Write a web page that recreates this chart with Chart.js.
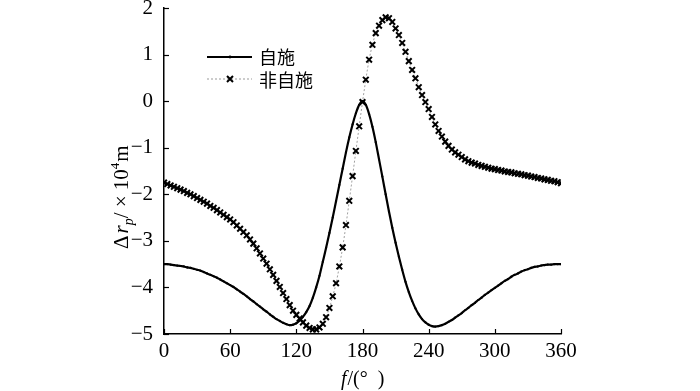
<!DOCTYPE html>
<html>
<head>
<meta charset="utf-8">
<script src="https://cdn.jsdelivr.net/npm/chart.js@4.4.1/dist/chart.umd.min.js"></script>
<style>
html,body{margin:0;padding:0;background:#fff;}
#wrap{position:relative;width:700px;height:391px;}
</style>
</head>
<body>
<div id="wrap"><canvas id="c" width="700" height="391"></canvas></div>
<script>
// ---- data ----
const angles = [
  0,3,6,9,12,15,18,21,24,27,
  30,33,36,39,42,45,48,51,54,57,
  60,63,66,69,72,75,78,81,84,87,
  90,93,96,99,102,105,108,111,114,117,
  120,123,126,129,132,135,138,141,144,147,
  150,153,156,159,162,165,168,171,174,177,
  180,183,186,189,192,195,198,201,204,207,
  210,213,216,219,222,225,228,231,234,237,
  240,243,246,249,252,255,258,261,264,267,
  270,273,276,279,282,285,288,291,294,297,
  300,303,306,309,312,315,318,321,324,327,
  330,333,336,339,342,345,348,351,354,357,
  360
];
const selfValues = [
  -3.50,-3.50,-3.51,-3.52,-3.53,-3.54,-3.55,-3.57,-3.58,-3.60,
  -3.62,-3.64,-3.67,-3.70,-3.73,-3.76,-3.79,-3.83,-3.87,-3.91,
  -3.95,-3.99,-4.04,-4.09,-4.14,-4.19,-4.25,-4.30,-4.36,-4.41,
  -4.47,-4.52,-4.58,-4.63,-4.68,-4.72,-4.76,-4.79,-4.81,-4.80,
  -4.77,-4.71,-4.63,-4.53,-4.40,-4.22,-4.00,-3.75,-3.45,-3.15,
  -2.83,-2.50,-2.15,-1.80,-1.45,-1.10,-0.78,-0.50,-0.26,-0.08,
  0.00,-0.08,-0.28,-0.55,-0.88,-1.25,-1.62,-2.00,-2.37,-2.72,
  -3.04,-3.34,-3.62,-3.88,-4.10,-4.29,-4.45,-4.58,-4.68,-4.75,
  -4.80,-4.83,-4.84,-4.83,-4.81,-4.78,-4.74,-4.70,-4.65,-4.60,
  -4.55,-4.49,-4.44,-4.38,-4.33,-4.27,-4.22,-4.16,-4.11,-4.06,
  -4.01,-3.96,-3.91,-3.86,-3.82,-3.77,-3.73,-3.70,-3.66,-3.63,
  -3.61,-3.58,-3.56,-3.55,-3.53,-3.52,-3.51,-3.51,-3.50,-3.50,
  -3.50
];
const nonSelfValues = [
  -1.75,-1.78,-1.81,-1.84,-1.87,-1.90,-1.93,-1.97,-2.00,-2.04,
  -2.08,-2.12,-2.16,-2.20,-2.25,-2.29,-2.34,-2.39,-2.44,-2.49,
  -2.54,-2.60,-2.67,-2.74,-2.81,-2.88,-2.97,-3.06,-3.16,-3.27,
  -3.38,-3.49,-3.61,-3.73,-3.86,-3.99,-4.12,-4.25,-4.38,-4.50,
  -4.59,-4.67,-4.75,-4.82,-4.87,-4.90,-4.90,-4.86,-4.78,-4.64,
  -4.44,-4.19,-3.91,-3.55,-3.14,-2.66,-2.14,-1.61,-1.07,-0.54,
  -0.02,0.46,0.89,1.21,1.46,1.62,1.74,1.80,1.78,1.70,
  1.56,1.42,1.25,1.06,0.86,0.67,0.49,0.30,0.13,-0.02,
  -0.17,-0.34,-0.50,-0.64,-0.76,-0.87,-0.96,-1.04,-1.10,-1.15,
  -1.20,-1.25,-1.29,-1.32,-1.34,-1.37,-1.39,-1.41,-1.43,-1.45,
  -1.46,-1.48,-1.49,-1.51,-1.52,-1.53,-1.55,-1.56,-1.57,-1.59,
  -1.60,-1.62,-1.63,-1.65,-1.66,-1.68,-1.69,-1.71,-1.72,-1.74,
  -1.76
];
const seriesNames = ['自施', '非自施'];
const xTicks = [0, 60, 120, 180, 240, 300, 360];
const yTicks = [-5, -4, -3, -2, -1, 0, 1, 2];

const SERIF = '"Liberation Serif", "DejaVu Serif", serif';
const CJK = '"Noto Sans CJK SC", sans-serif';

function pts(vals){ return angles.map((a,i)=>({x:a, y:vals[i]})); }

// inward tick marks, legend and axis titles
const decor = {
  id: 'decor',
  afterDraw(chart){
    const ctx = chart.ctx;
    const xs = chart.scales.x, ys = chart.scales.y;
    const ca = chart.chartArea;
    ctx.save();
    ctx.strokeStyle = '#000';
    ctx.lineWidth = 1.2;
    xTicks.forEach(v=>{
      const px = Math.round(xs.getPixelForValue(v)) + 0.5;
      ctx.beginPath(); ctx.moveTo(px, ca.bottom); ctx.lineTo(px, ca.bottom - 5); ctx.stroke();
    });
    yTicks.forEach(v=>{
      const py = Math.round(ys.getPixelForValue(v)) + 0.5;
      ctx.beginPath(); ctx.moveTo(ca.left, py); ctx.lineTo(ca.left + 5, py); ctx.stroke();
    });

    // legend
    ctx.textBaseline = 'middle';
    ctx.textAlign = 'left';
    ctx.lineWidth = 2.2;
    ctx.strokeStyle = '#000';
    ctx.beginPath(); ctx.moveTo(207, 57); ctx.lineTo(252, 57); ctx.stroke();
    ctx.fillStyle = '#000';
    ctx.beginPath(); ctx.arc(230, 57, 1.4, 0, Math.PI*2); ctx.fill();
    ctx.lineWidth = 1;
    ctx.strokeStyle = '#9a9a9a';
    ctx.setLineDash([2,2]);
    ctx.beginPath(); ctx.moveTo(207, 79); ctx.lineTo(252, 79); ctx.stroke();
    ctx.setLineDash([]);
    ctx.strokeStyle = '#000';
    ctx.lineWidth = 2;
    ctx.beginPath(); ctx.moveTo(227,76); ctx.lineTo(233,82); ctx.moveTo(233,76); ctx.lineTo(227,82); ctx.stroke();
    ctx.font = '18px ' + CJK;
    ctx.fillStyle = '#000';
    ctx.fillText(seriesNames[0], 259, 57);
    ctx.fillText(seriesNames[1], 259, 80);

    // x title  f/(°  )
    ctx.textBaseline = 'alphabetic';
    let x = 341, yb = 385;
    ctx.font = 'italic 20px ' + SERIF;
    ctx.fillText('f', x, yb); x += ctx.measureText('f').width + 1;
    ctx.font = '20px ' + SERIF;
    ctx.fillText('/(°  )', x, yb);

    // y title  Δr_p/×10^4 m  (rotated)
    ctx.translate(128, 249);
    ctx.rotate(-Math.PI/2);
    let t = 0;
    ctx.font = '21px ' + SERIF;
    ctx.fillText('Δ', t, 0); t += ctx.measureText('Δ').width + 2;
    ctx.font = 'italic 21px ' + SERIF;
    ctx.fillText('r', t, 0); t += ctx.measureText('r').width;
    ctx.font = 'italic 14px ' + SERIF;
    ctx.fillText('p', t, 5); t += ctx.measureText('p').width;
    ctx.font = '21px ' + SERIF;
    ctx.fillText('/ × 10', t, 0); t += ctx.measureText('/ × 10').width;
    ctx.font = '13px ' + SERIF;
    ctx.fillText('4', t, -9); t += ctx.measureText('4').width + 1;
    ctx.font = '21px ' + SERIF;
    ctx.fillText('m', t, 0);
    ctx.restore();
  }
};

new Chart(document.getElementById('c'), {
  type: 'line',
  data: {
    datasets: [
      {
        label: seriesNames[0],
        data: pts(selfValues),
        borderColor: '#000',
        borderWidth: 2.2,
        pointRadius: 1.1,
        pointBackgroundColor: '#000',
        pointBorderColor: '#000',
        pointBorderWidth: 0,
        cubicInterpolationMode: 'monotone',
        fill: false
      },
      {
        label: seriesNames[1],
        data: pts(nonSelfValues),
        borderColor: '#a0a0a0',
        borderWidth: 1,
        borderDash: [2,2],
        pointStyle: 'crossRot',
        pointRadius: 4,
        pointBorderColor: '#000',
        pointBorderWidth: 2,
        cubicInterpolationMode: 'monotone',
        fill: false
      }
    ]
  },
  options: {
    responsive: false,
    animation: false,
    events: [],
    layout: { padding: { left: 0, right: 139, top: 8, bottom: 0 } },
    plugins: { legend: { display: false }, tooltip: { enabled: false } },
    scales: {
      x: {
        type: 'linear', min: 0, max: 360,
        afterBuildTicks(s){ s.ticks = xTicks.map(v=>({value:v})); },
        afterFit(s){ s.height = 57; s.paddingLeft = 0; s.paddingRight = 0; },
        grid: { display: true, drawOnChartArea: false, drawTicks: false },
        border: { display: true, color: '#000', width: 1.5 },
        ticks: { color: '#000', padding: 5, maxRotation: 0, font: { family: SERIF, size: 21 } }
      },
      y: {
        min: -5, max: 2,
        afterBuildTicks(s){ s.ticks = yTicks.map(v=>({value:v})); },
        afterFit(s){ s.width = 164; s.paddingTop = 0; s.paddingBottom = 0; },
        grid: { display: true, drawOnChartArea: false, drawTicks: false },
        border: { display: true, color: '#000', width: 1.5 },
        ticks: {
          color: '#000', padding: 11, font: { family: SERIF, size: 21 },
          callback: v => (v < 0 ? '\u2212' + Math.abs(v) : String(v))
        }
      }
    }
  },
  plugins: [decor]
});
</script>
</body>
</html>
